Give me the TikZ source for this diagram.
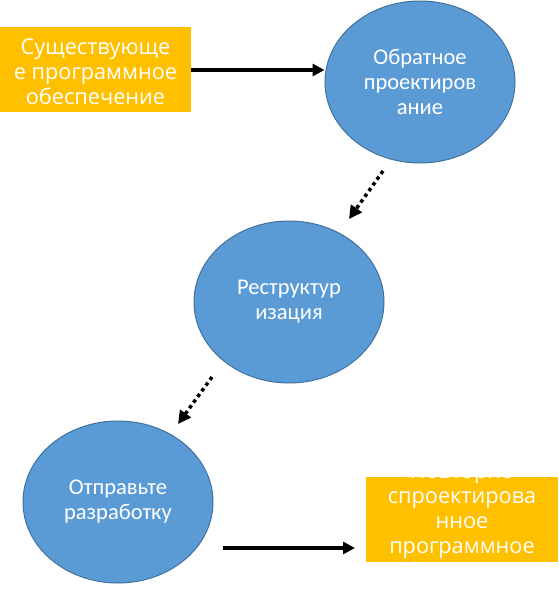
\documentclass[tikz,border=0pt]{standalone}
\usepackage{fontspec}
\setmainfont{Open Sans}
\newfontfamily\ellfont{Carlito}
\usetikzlibrary{arrows.meta,shapes.geometric}
\definecolor{boxorange}{HTML}{FFC000}
\definecolor{ellblue}{HTML}{5B9BD5}
\definecolor{ellborder}{HTML}{41719C}
\tikzset{
  x=1pt, y=-1pt,
  btext/.style={text=white, font=\fontsize{21.7}{25}\selectfont, align=center, inner sep=0pt},
  stage/.style={ellipse, fill=ellblue, draw=ellborder, line width=1pt, minimum width=190pt, minimum height=162pt, text=white, font=\ellfont\fontsize{22.5}{25}\selectfont, align=center},
  solidarrow/.style={line width=3.5pt, -{Triangle[length=12pt,width=12pt]}},
  dotarrow/.style={line width=3.5pt, dash pattern=on 3.5pt off 3.5pt, -{Triangle[length=13pt,width=13pt]}},
}
\begin{document}
\begin{tikzpicture}
\useasboundingbox[fill=white] (0,0) rectangle (558,596);
% top-left box
\fill[boxorange] (0,27) rectangle (191,112);
\coordinate (srcE) at (191,70);
\node[btext] (src) at (95.5,72) {Существующе\\е программное\\обеспечение};
% ellipses
\node[stage] (rev) at (420,82) {Обратное\\проектиров\\ание};
\node[stage] (restr) at (289,302) {Реструктур\\изация};
\node[stage] (fwd) at (118,502) {Отправьте\\разработку};
% bottom-right box
\fill[boxorange] (366,477) rectangle (558,562);
\coordinate (dstW) at (355,548);
\node[btext] (dst) at (462,521) {Повторно\\спроектирова\\нное\\программное\\обеспечение};
% connectors
\draw[solidarrow] (srcE) -- (rev.west |- srcE);
\coordinate (d1s) at (383,171);
\coordinate (d1e) at (349,219);
\draw[dotarrow] (d1s) -- (d1e);
\coordinate (d2s) at (212,377);
\coordinate (d2e) at (178,424);
\draw[dotarrow] (d2s) -- (d2e);
\coordinate (b1s) at (223,548);
\draw[solidarrow] (b1s) -- (dstW);
\end{tikzpicture}
\end{document}
